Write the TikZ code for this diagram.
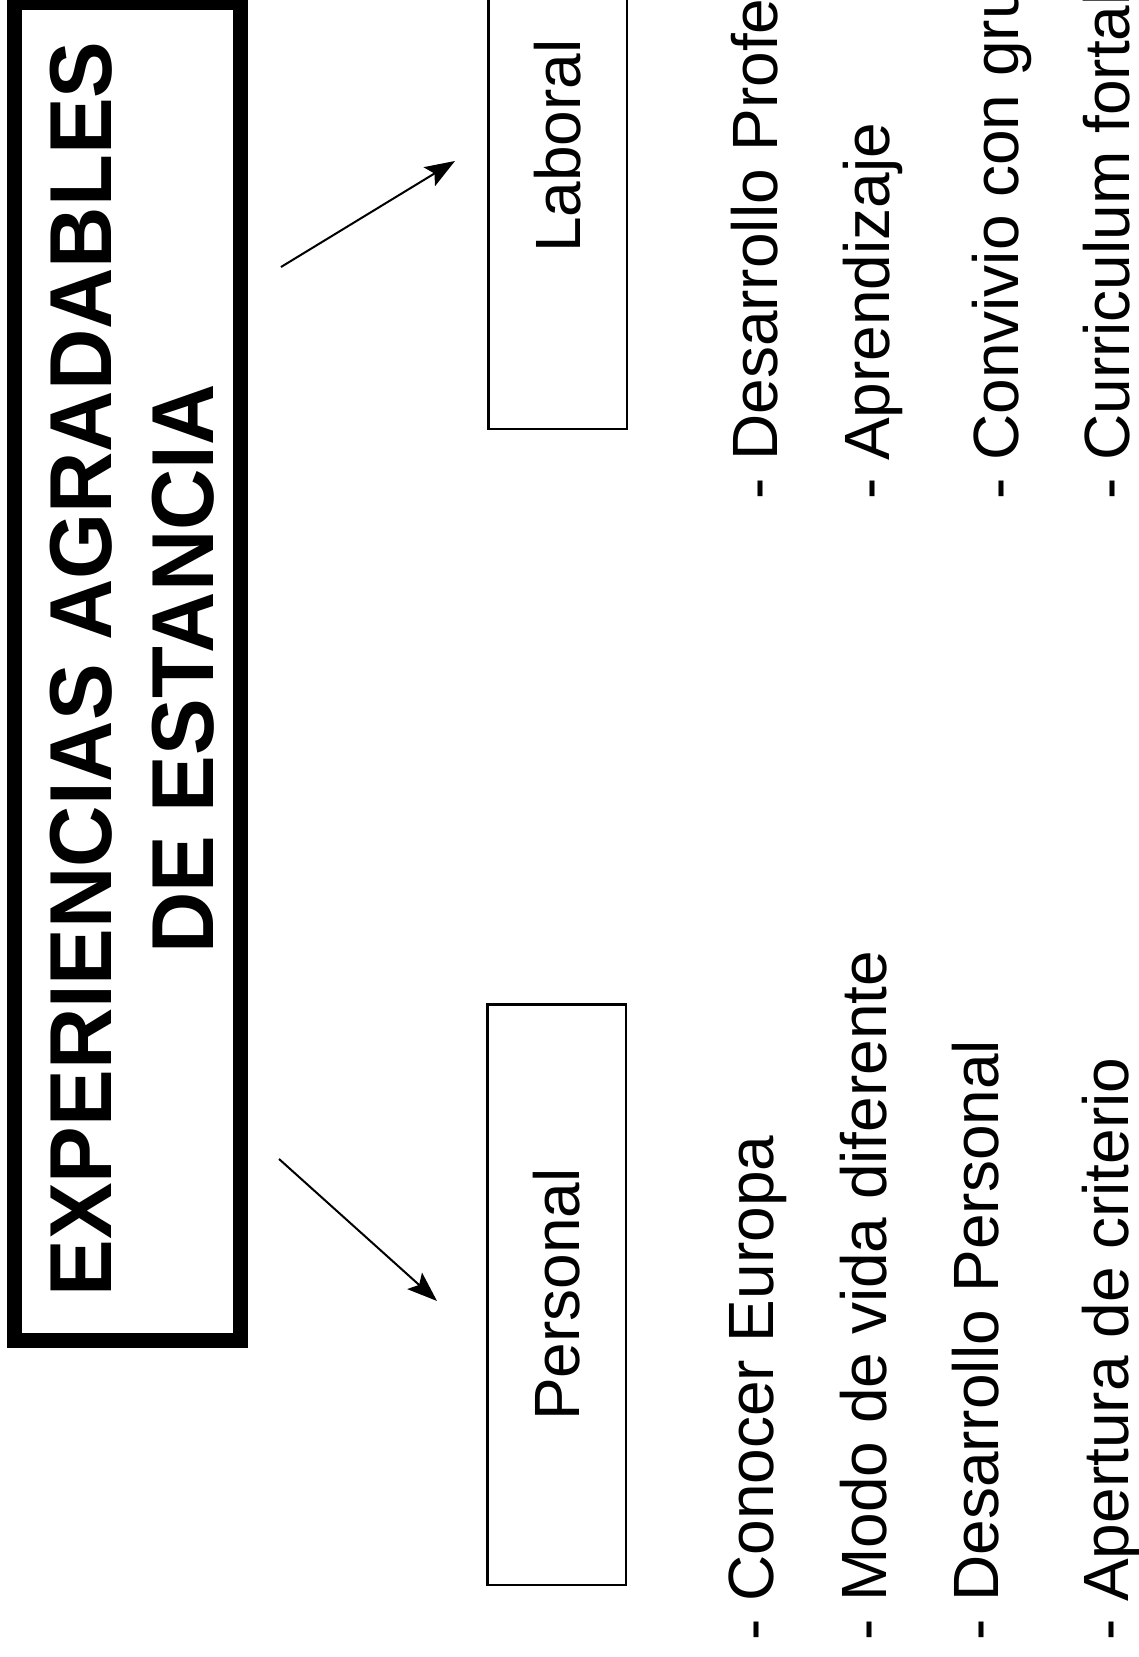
\documentclass[tikz,border=0pt]{standalone}
\usepackage{graphicx}
\usepackage{fontspec}
\setmainfont{Liberation Sans}
\usetikzlibrary{arrows.meta}
\begin{document}
\begin{tikzpicture}[x=1pt, y=-1pt,
  titlebox/.style={draw, line width=15pt, minimum width=226pt, minimum height=1338pt, inner sep=0pt},
  subbox/.style={draw, line width=2.5pt, minimum width=138.5pt, inner sep=0pt,
                 font=\fontsize{64}{77}\selectfont},
  headline/.style={rotate=90, anchor=base, inner sep=0pt,
                   font=\bfseries\fontsize{88}{102}\selectfont},
  item/.style={rotate=90, anchor=base west, inner sep=0pt,
               font=\fontsize{64}{77}\selectfont},
  link/.style={line width=2pt, -{Stealth[length=30pt, width=22pt, inset=6pt]}}]
\path[use as bounding box, clip] (0,0) rectangle (1138,1657);

% main heading box
\node[titlebox] (main) at (127.5,671.5) {};
\node[headline] (t1) at (111,669) {\scalebox{0.965}[1]{EXPERIENCIAS AGRADABLES}};
\node[headline] (t2) at (213,669) {\scalebox{0.965}[1]{DE ESTANCIA}};

% the two categories
\node[subbox, minimum height=565.5pt] (laboral) at (557.5,146) {\rotatebox{90}{Laboral}};
\node[subbox, minimum height=580.5pt] (personal) at (556.5,1294.5) {\rotatebox{90}{Personal}};

% arrows from the heading to each category
\draw[link, shorten <=38.6pt, shorten >=37.5pt]
  ([yshift=384.4pt]main.east) -- ([yshift=4.5pt]laboral.west);
\draw[link, shorten <=41.7pt, shorten >=65.9pt]
  ([yshift=-459.6pt]main.east) -- ([yshift=-50.5pt]personal.west);

% work-related items
\node[item] (w1) at (777,500) {- Desarrollo Profe};
\node[item] (w2) at (889,500) {- Aprendizaje};
\node[item] (w3) at (1018,500) {- Convivio con gru};
\node[item] (w4) at (1129,500) {- Curriculum fortal};

% personal items
\node[item] (p1) at (773,1641) {- Conocer Europa};
\node[item] (p2) at (886,1641) {- Modo de vida diferente};
\node[item] (p3) at (998,1641) {- Desarrollo Personal};
\node[item] (p4) at (1128,1641) {- Apertura de criterio};
\end{tikzpicture}
\end{document}
